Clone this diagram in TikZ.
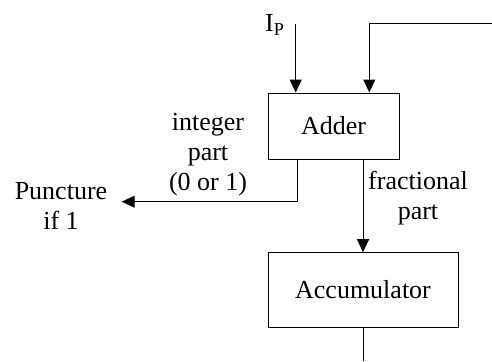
\documentclass[tikz,border=0pt]{standalone}
\usepackage{fontspec}
\setmainfont{Liberation Serif}
\usetikzlibrary{arrows.meta}

\tikzset{
  block/.style={draw, line width=0.5pt, inner sep=0pt, font=\fontsize{13}{15}\selectfont},
  lbl/.style={inner sep=0pt, align=center, font=\fontsize{13}{15}\selectfont},
  wire/.style={line width=0.5pt},
  flow/.style={wire, -{Triangle[length=6.5pt,width=6pt]}}
}

\begin{document}
\begin{tikzpicture}[x=0.5pt,y=-0.5pt]
			\useasboundingbox (0,0) rectangle (492,361);
			\node[block, minimum width=65.5pt, minimum height=33pt] (adder) at (333.5,126) {Adder};
			\node[block, minimum width=95pt, minimum height=37.3pt] (acc) at (363,290) {Accumulator};
			\coordinate (ip) at (295.7,24);
			\coordinate (fb) at (492,23.3);
			\coordinate (punct) at (121.7,201.7);
			\coordinate (out) at (363,361);
			\node[lbl] (iplabel) at (275,25) {I\textsubscript{P}};
			\node[lbl] (intlabel) at (208,155) {integer\\part\\(0 or 1)};
			\node[lbl] (punclabel) at (61,206) {Puncture\\if 1};
			\node[lbl] (fraclabel) at (418,198) {fractional\\part};
			\draw[flow](ip) -- (ip |- adder.north);
			\draw[flow](fb) -| ([xshift=17.9pt]adder.north);
			\draw[flow]([xshift=-18pt]adder.south) |- (punct);
			\draw[flow](adder.south -| acc.north) -- (acc.north);
			\draw[wire](acc.south) -- (out);
		\end{tikzpicture}
\end{document}
